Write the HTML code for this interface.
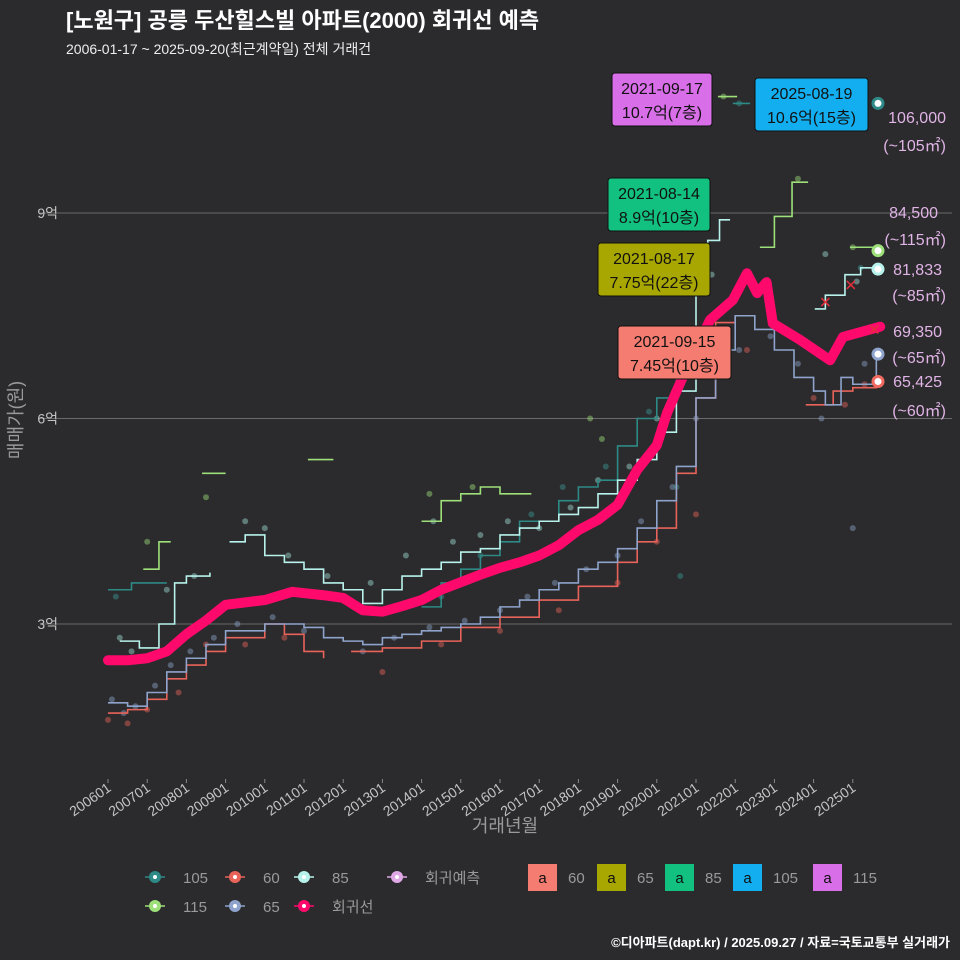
<!DOCTYPE html>
<html><head><meta charset="utf-8">
<style>
html,body{margin:0;padding:0;background:#2b2a2c;}
svg{display:block;font-family:"Liberation Sans","Noto Sans CJK KR",sans-serif;}
</style></head>
<body>
<svg id="chart" width="960" height="960" viewBox="0 0 960 960">
<rect x="0" y="0" width="960" height="960" fill="#2b2a2c"/>
<text x="66" y="28" fill="#ffffff" font-size="22" font-weight="bold">[노원구] 공릉 두산힐스빌 아파트(2000) 회귀선 예측</text>
<text x="66" y="54" fill="#eeeeee" font-size="14">2006-01-17 ~ 2025-09-20(최근계약일) 전체 거래건</text>
<g id="grid"></g>
<g id="yticks"></g>
<g id="xticks"></g>
<text x="505" y="832" fill="#9a9a9a" font-size="18" text-anchor="middle">거래년월</text>
<text transform="translate(22,420) rotate(-90)" fill="#9a9a9a" font-size="18" text-anchor="middle">매매가(원)</text>
<g id="points"></g>
<g id="lines"></g>
<g id="reg"></g>
<g id="ends"></g>
<g id="labels"></g>
<g id="legend"></g>
<text x="950" y="947" fill="#ffffff" font-size="13" font-weight="bold" text-anchor="end">©디아파트(dapt.kr) / 2025.09.27 / 자료=국토교통부 실거래가</text>
</svg>
<script>
const NS="http://www.w3.org/2000/svg";
const yTicks=[3,6,9];
const yTickLabels=["3억","6억","9억"];
const xTickYears=[2006,2007,2008,2009,2010,2011,2012,2013,2014,2015,2016,2017,2018,2019,2020,2021,2022,2023,2024,2025];
const xTickLabels=["200601","200701","200801","200901","201001","201101","201201","201301","201401","201501","201601","201701","201801","201901","202001","202101","202201","202301","202401","202501"];
const regYears=[2006.0,2006.5,2007.0,2007.5,2008.0,2008.5,2009.0,2010.0,2010.7,2011.5,2012.0,2012.5,2013.0,2013.5,2014.0,2014.5,2015.0,2015.5,2016.0,2016.5,2017.0,2017.5,2018.0,2018.5,2019.0,2019.5,2020.0,2020.26,2020.85,2021.36,2021.94,2022.3,2022.56,2022.8,2022.96,2023.65,2024.42,2024.75,2025.7];
const regValues=[2.47,2.47,2.5,2.6,2.85,3.05,3.28,3.35,3.47,3.42,3.38,3.2,3.18,3.26,3.35,3.5,3.61,3.72,3.82,3.9,4.0,4.15,4.37,4.52,4.74,5.25,5.61,6.08,6.85,7.44,7.73,8.12,7.83,7.99,7.39,7.15,6.85,7.19,7.34];
// null entries mark gaps (year ignored)
const s65Years=[2006.0,2006.5,2007.0,2007.5,2008.0,2008.5,2009.0,2010.0,2011.0,2011.5,2012.0,2012.5,2013.0,2013.5,2014.0,2014.5,2015.0,2015.5,2016.0,2016.5,2017.0,2017.5,2018.0,2018.5,2019.0,2019.5,2020.0,2020.5,2021.0,2021.5,2022.0,2022.5,2023.0,2023.5,2024.0,2024.3,2024.7,2025.0,2025.6];
const s65Values=[1.85,1.8,2.0,2.3,2.5,2.7,2.9,3.0,2.95,2.8,2.75,2.7,2.8,2.85,2.9,2.95,3.0,3.1,3.25,3.35,3.5,3.6,3.8,3.9,4.1,4.4,4.8,5.3,6.3,7.0,7.5,7.3,7.0,6.6,6.4,6.2,6.6,6.5,6.95];
const s60Years=[2006.0,2006.5,2007.0,2007.5,2008.0,2008.5,2009.0,2010.0,2010.5,2011.0,2011.5,0,2012.2,2013.0,2014.0,2015.0,2016.0,2017.0,2018.0,2019.0,2019.5,2020.0,2020.5,2021.0,2021.5,2022.0,0,2023.8,2024.5,2025.0,2025.6];
const s60Values=[1.7,1.75,1.9,2.2,2.4,2.6,2.8,3.0,2.85,2.6,2.5,null,2.6,2.65,2.75,2.95,3.1,3.35,3.55,3.9,4.2,4.4,5.2,6.3,7.4,7.5,null,6.2,6.4,6.45,6.6];
const s85Years=[2006.3,2006.8,2007.3,2007.7,2008.0,2008.6,0,2009.1,2009.5,2010.0,2010.5,2011.0,2011.5,2012.0,2012.5,2013.0,2013.5,2014.0,2014.5,2015.0,2015.5,2016.0,2016.5,2017.0,2017.5,2018.0,2018.5,2019.0,2019.5,2020.0,2020.5,2021.0,2021.3,2021.6,2021.87,0,2024.03,2024.3,2024.8,2025.2,2025.65];
const s85Values=[2.75,2.65,3.0,3.6,3.7,3.75,null,4.2,4.3,4.0,3.9,3.8,3.6,3.5,3.3,3.5,3.7,3.8,3.9,4.05,4.1,4.3,4.4,4.5,4.6,4.7,4.9,5.1,5.4,5.8,6.4,7.8,8.6,8.9,8.9,null,7.6,7.8,8.1,8.2,8.18];
const s105Years=[2006.0,2006.6,2007.5,0,2014.0,2014.5,2015.0,2015.5,2016.0,2016.5,2017.0,2017.5,2018.0,2018.5,2019.0,2019.5,2020.0,2020.5,2021.0,0,2021.94,2022.38];
const s105Values=[3.5,3.6,3.6,null,3.25,3.6,3.8,4.0,4.2,4.5,4.5,4.8,5.0,5.1,5.6,6.0,6.3,6.8,7.1,null,10.6,10.6];
const s115Years=[2006.9,2007.3,2007.6,0,2008.4,2009.0,0,2011.1,2011.75,0,2014.0,2014.5,2015.0,2015.5,2016.0,2016.8,0,2021.56,2022.05,0,2022.63,2023.0,2023.45,2023.86,0,2024.93,2025.57];
const s115Values=[3.8,4.2,4.2,null,5.2,5.2,null,5.4,5.4,null,4.5,4.8,4.9,5.0,4.9,4.9,null,10.7,10.7,null,8.5,8.95,9.45,9.45,null,8.5,8.5];
const p65=[[2006.1,1.9],[2006.4,1.7],[2006.7,1.8],[2007.2,2.1],[2007.6,2.4],[2008.1,2.6],[2008.7,2.8],[2009.3,3.0],[2010.2,3.1],[2011.0,2.9],[2012.5,2.6],[2013.3,2.8],[2014.2,2.95],[2015.1,3.05],[2016.0,3.2],[2016.7,3.4],[2017.4,3.6],[2018.2,3.8],[2019.0,4.0],[2019.6,4.5],[2020.4,5.0],[2021.0,6.0],[2022.1,7.0],[2022.9,7.2],[2023.6,6.8],[2024.2,6.0],[2025.0,4.4],[2025.3,6.8]];
const p60=[[2006.0,1.6],[2006.5,1.55],[2007.0,1.75],[2007.8,2.0],[2008.5,2.7],[2009.5,2.7],[2010.5,2.8],[2013.0,2.3],[2014.5,2.7],[2016.0,2.9],[2017.5,3.2],[2019.0,3.6],[2020.0,4.2],[2021.0,4.6],[2022.3,7.0],[2024.0,6.3],[2024.8,6.2],[2025.3,6.5]];
const p85=[[2006.3,2.8],[2006.6,2.6],[2007.5,3.5],[2008.2,3.7],[2009.5,4.5],[2010.0,4.4],[2010.6,4.0],[2011.6,3.7],[2012.7,3.6],[2013.6,4.0],[2014.3,4.5],[2014.8,4.2],[2015.5,4.3],[2016.2,4.5],[2017.0,4.4],[2017.8,4.7],[2018.5,5.1],[2019.3,5.3],[2020.0,6.0],[2020.7,6.6],[2021.4,8.1],[2024.3,8.4],[2025.1,8.0]];
const p105=[[2006.2,3.4],[2014.5,3.4],[2015.5,4.0],[2016.8,4.6],[2017.6,5.0],[2018.7,5.3],[2019.8,6.1],[2020.5,5.0],[2020.6,3.7],[2022.1,10.6],[2025.2,8.2]];
const p115=[[2007.0,4.2],[2008.5,4.85],[2014.2,4.9],[2015.3,5.0],[2018.3,6.0],[2018.6,5.7],[2021.7,10.7],[2023.6,9.5],[2025.0,8.5]];
const endVals=[10.6,8.45,8.18,6.94,6.54];
const endColors=["#2e8a86","#9ee07a","#b8f2ec","#8ea4cc","#f06a60"];
const endNames=["end-105","end-115","end-85","end-65","end-60"];

function X(yr){return 108+(yr-2006)*39.2;}
function Y(v){return 624-(v-3)*68.5;}
function el(tag,attrs,parent){const e=document.createElementNS(NS,tag);for(const k in attrs)e.setAttribute(k,attrs[k]);parent.appendChild(e);return e;}

const grid=document.getElementById('grid'),yt=document.getElementById('yticks'),xt=document.getElementById('xticks');
yTicks.forEach((v,i)=>{
 const l=el('line',{x1:40,x2:952,y1:Y(v),y2:Y(v),stroke:'#6a6a6a','stroke-width':1},grid);
 
 
 const t=el('text',{x:58,y:Y(v)+5,fill:'#c4c4c4','font-size':14,'text-anchor':'end'},yt);
 t.textContent=yTickLabels[i];
 
 
});
xTickYears.forEach((yr,i)=>{
 const x=X(yr);
 const tk=el('line',{x1:x,x2:x,y1:779,y2:783,stroke:'#888'},xt);
 
 
 const t=el('text',{transform:`translate(${x+4},${790}) rotate(-35)`,fill:'#c4c4c4','font-size':14,'text-anchor':'end'},xt);
 t.textContent=xTickLabels[i];
 
 
});

const pts=document.getElementById('points');
function drawPts(arr,color,name){arr.forEach(p=>{
 const c=el('circle',{cx:X(p[0]),cy:Y(p[1]),r:3,fill:color,'fill-opacity':0.45},pts);
 
 
});}
drawPts(p60,'#e8635a','point-60');drawPts(p65,'#8ea4cc','point-65');drawPts(p85,'#a0e0d8','point-85');drawPts(p105,'#3a9a94','point-105');drawPts(p115,'#9ee07a','point-115');

const lines=document.getElementById('lines');
function stepPath(ys,vs){let d='',started=false;
 for(let i=0;i<ys.length;i++){const v=vs[i];
  if(v===null){started=false;continue;}
  const x=X(ys[i]),y=Y(v);
  if(!started){d+=`M${x},${y}`;started=true;}else{d+=`H${x}V${y}`;}
 }return d;}
function drawLine(ys,vs,color,name){
 const p=el('path',{d:stepPath(ys,vs),fill:'none',stroke:color,'stroke-width':1.6},lines);
 
 
}
drawLine(s105Years,s105Values,'#2e8a86','line-105');
drawLine(s60Years,s60Values,'#e8635a','line-60');
drawLine(s65Years,s65Values,'#8ea4cc','line-65');
drawLine(s85Years,s85Values,'#b8f2ec','line-85');
drawLine(s115Years,s115Values,'#9ee07a','line-115');

const reg=document.getElementById('reg');
let rd='';regYears.forEach((yr,i)=>{rd+=(i?'L':'M')+X(yr)+','+Y(regValues[i]);});
const rp=el('path',{d:rd,fill:'none',stroke:'#ff0a6c','stroke-width':10,'stroke-linejoin':'round','stroke-linecap':'round'},reg);



const ends=document.getElementById('ends');
endVals.forEach((v,i)=>{
 const c=el('circle',{cx:878,cy:Y(v),r:5,fill:'#fff',stroke:endColors[i],'stroke-width':3},ends);
 
 
});
[[2024.3,7.7],[2024.95,7.95],[2025.55,7.3]].forEach(p=>{
 const g=el('path',{d:`M${X(p[0])-4},${Y(p[1])-4}L${X(p[0])+4},${Y(p[1])+4}M${X(p[0])+4},${Y(p[1])-4}L${X(p[0])-4},${Y(p[1])+4}`,stroke:'#e0303a','stroke-width':1.5},ends);
 
 
});

const lab=document.getElementById('labels');
const boxes=[[612,73,100,'#d86ee8','2021-09-17','10.7억(7층)','label-115'],[755,78,113,'#13aef0','2025-08-19','10.6억(15층)','label-105'],[608,178,102,'#12c080','2021-08-14','8.9억(10층)','label-85'],[598,243,112,'#a8a600','2021-08-17','7.75억(22층)','label-65'],[618,326,113,'#f47c70','2021-09-15','7.45억(10층)','label-60']];
boxes.forEach(b=>{
 const g=el('g',{},lab);
 
 
 el('rect',{x:b[0],y:b[1],width:b[2],height:53,rx:3,fill:b[3],stroke:'#111','stroke-width':1},g);
 const t1=el('text',{x:b[0]+b[2]/2,y:b[1]+21,'font-size':16,'text-anchor':'middle',fill:'#111'},g);t1.textContent=b[4];
 const t2=el('text',{x:b[0]+b[2]/2,y:b[1]+45,'font-size':16,'text-anchor':'middle',fill:'#111'},g);t2.textContent=b[5];
});
const rtexts=[[946,123,'106,000'],[946,151,'(~105㎡)'],[938,218,'84,500'],[946,245,'(~115㎡)'],[942,275,'81,833'],[946,301,'(~85㎡)'],[942,337,'69,350'],[946,363,'(~65㎡)'],[942,387,'65,425'],[946,416,'(~60㎡)']];
rtexts.forEach(r=>{
 const t=el('text',{x:r[0],y:r[1],'font-size':16,'text-anchor':'end',fill:'#e0b4e6'},lab);
 t.textContent=r[2];
 
 
});

const lg=document.getElementById('legend');
const pointItems=[[155,877,'#2e8a86','105'],[235,877,'#e8635a','60'],[304,877,'#b8f2ec','85'],[397,877,'#e0a8e6','회귀예측'],[155,906,'#9ee07a','115'],[235,906,'#8ea4cc','65'],[304,906,'#ff0a6c','회귀선']];
pointItems.forEach(it=>{
 const g=el('g',{},lg);
 
 
 el('line',{x1:it[0]-10,x2:it[0]+10,y1:it[1],y2:it[1],stroke:it[2],'stroke-width':1.5},g);
 el('circle',{cx:it[0],cy:it[1],r:6,fill:it[2]},g);
 el('circle',{cx:it[0],cy:it[1],r:2,fill:'#fff'},g);
 const t=el('text',{x:it[0]+28,y:it[1]+6,'font-size':15,fill:'#9a9a9a'},g);t.textContent=it[3];
});
const boxItems=[[528,'#f47c70','60'],[597,'#a8a600','65'],[665,'#12c080','85'],[733,'#13aef0','105'],[813,'#d86ee8','115']];
boxItems.forEach(it=>{
 const g=el('g',{},lg);
 
 
 el('rect',{x:it[0],y:864,width:29,height:27,fill:it[1]},g);
 const a=el('text',{x:it[0]+14.5,y:883,'font-size':15,'text-anchor':'middle',fill:'#111'},g);a.textContent='a';
 const t=el('text',{x:it[0]+40,y:883,'font-size':15,fill:'#9a9a9a'},g);t.textContent=it[2];
});
</script>
</body></html>
